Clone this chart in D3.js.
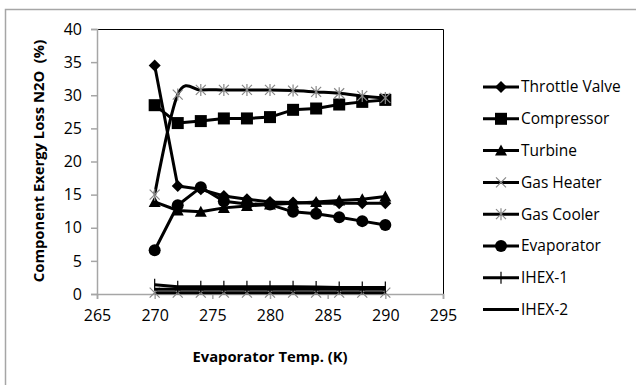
<!DOCTYPE html>
<html lang="en">
<head>
<meta charset="UTF-8">
<title>Component Exergy Loss N2O</title>
<style>
  body { margin: 0; background: #fff; }
  text { font-family: "Open Sans", sans-serif; fill: #000; }
</style>
</head>
<body>
<svg id="chart" width="636" height="385"></svg>
<script src="https://d3js.org/d3.v7.min.js"></script>
<script>
// data
var temps = [270, 272, 274, 276, 278, 280, 282, 284, 286, 288, 290];
var throttleValve = [34.5, 16.3, 15.8, 14.8, 14.3, 13.9, 13.8, 13.7, 13.7, 13.7, 13.7];
var compressor    = [28.5, 25.8, 26.1, 26.5, 26.5, 26.7, 27.8, 28.0, 28.6, 29.0, 29.3];
var turbine       = [13.9, 12.6, 12.4, 13.0, 13.3, 13.5, 13.7, 13.9, 14.1, 14.3, 14.7];
var gasHeater     = [0.2, 0.2, 0.2, 0.2, 0.2, 0.2, 0.2, 0.2, 0.2, 0.2, 0.2];
var gasCooler     = [15.0, 30.1, 30.8, 30.8, 30.8, 30.8, 30.7, 30.5, 30.3, 29.9, 29.6];
var evaporator    = [6.6, 13.4, 16.1, 14.0, 13.6, 13.5, 12.4, 12.1, 11.6, 11.0, 10.4];
var ihex1         = [1.4, 1.1, 1.1, 1.1, 1.1, 1.1, 1.1, 1.05, 1.0, 1.0, 1.0];
var ihex2         = [0.7, 0.7, 0.7, 0.7, 0.7, 0.7, 0.7, 0.7, 0.7, 0.7, 0.7];
var xTicks = [265, 270, 275, 280, 285, 290, 295];
var yTicks = [0, 5, 10, 15, 20, 25, 30, 35, 40];

var series = [
  {name: "Throttle Valve", values: throttleValve, marker: "diamond"},
  {name: "Compressor", values: compressor, marker: "square"},
  {name: "Turbine", values: turbine, marker: "triangle"},
  {name: "Gas Heater", values: gasHeater, marker: "x"},
  {name: "Gas Cooler", values: gasCooler, marker: "asterisk", smooth: true},
  {name: "Evaporator", values: evaporator, marker: "circle"},
  {name: "IHEX-1", values: ihex1, marker: "plus"},
  {name: "IHEX-2", values: ihex2, marker: "none"}
];

var svg = d3.select("#chart");

// outer chart frame
svg.append("rect")
  .attr("x", 5.5).attr("y", 9.5)
  .attr("width", 640).attr("height", 400)
  .attr("fill", "none").attr("stroke", "#a6a6a6").attr("stroke-width", 1.5);

var plot = {left: 97, right: 443, top: 29, bottom: 294};

var x = d3.scaleLinear().domain([265, 295]).range([plot.left, plot.right]);
var y = d3.scaleLinear().domain([0, 40]).range([plot.bottom, plot.top]);

// plot area border (top and right)
svg.append("path")
  .attr("d", "M" + plot.left + "," + (plot.top + 0.5) + "H" + (plot.right + 0.5) + "V" + plot.bottom)
  .attr("fill", "none").attr("stroke", "#000").attr("stroke-width", 1);

// axes
var xAxis = svg.append("g")
  .attr("transform", "translate(0," + plot.bottom + ")")
  .call(d3.axisBottom(x).tickValues(xTicks).tickSize(5).tickPadding(11));
var yAxis = svg.append("g")
  .attr("transform", "translate(" + plot.left + ",0)")
  .call(d3.axisLeft(y).tickValues(yTicks).tickSize(6).tickPadding(9));

[xAxis, yAxis].forEach(function(ax) {
  ax.select(".domain").attr("stroke", "#a6a6a6").attr("stroke-width", 1.5);
  ax.selectAll(".tick line").attr("stroke", "#a6a6a6").attr("stroke-width", 1.5);
  ax.selectAll(".tick text").style("font-family", "'Open Sans', sans-serif")
    .style("font-size", "16px").attr("fill", "#333");
});

// axis titles
svg.append("text")
  .attr("x", 270).attr("y", 362)
  .attr("text-anchor", "middle")
  .style("font-size", "14.8px").style("font-weight", "bold")
  .text("Evaporator Temp. (K)");

svg.append("text")
  .attr("transform", "translate(44,161) rotate(-90)")
  .attr("text-anchor", "middle")
  .style("font-size", "14.8px").style("font-weight", "bold")
  .text("Component Exergy Loss N2O\u00a0 (%)");

function drawMarker(g, type, cx, cy) {
  if (type === "diamond") {
    g.append("path").attr("d", "M" + cx + "," + (cy - 6) + "L" + (cx + 6) + "," + cy + "L" + cx + "," + (cy + 6) + "L" + (cx - 6) + "," + cy + "Z")
      .attr("fill", "#000");
  } else if (type === "square") {
    g.append("rect").attr("x", cx - 6).attr("y", cy - 6).attr("width", 12).attr("height", 12).attr("fill", "#000");
  } else if (type === "triangle") {
    g.append("path").attr("d", "M" + cx + "," + (cy - 6) + "L" + (cx + 6) + "," + (cy + 5) + "L" + (cx - 6) + "," + (cy + 5) + "Z").attr("fill", "#000");
  } else if (type === "circle") {
    g.append("circle").attr("cx", cx).attr("cy", cy).attr("r", 6).attr("fill", "#000");
  } else if (type === "x" || type === "asterisk") {
    var s = 5;
    var d = "M" + (cx - s) + "," + (cy - s) + "L" + (cx + s) + "," + (cy + s) +
            "M" + (cx - s) + "," + (cy + s) + "L" + (cx + s) + "," + (cy - s);
    if (type === "asterisk") d += "M" + cx + "," + (cy - 6) + "L" + cx + "," + (cy + 6);
    g.append("path").attr("d", d).attr("stroke", "#888").attr("stroke-width", 1.2).attr("fill", "none");
  } else if (type === "plus") {
    g.append("path").attr("d", "M" + cx + "," + (cy - 6) + "L" + cx + "," + (cy + 6))
      .attr("stroke", "#000").attr("stroke-width", 1.2);
  }
}

// series lines and markers
series.forEach(function(s) {
  var g = svg.append("g");
  var line = d3.line()
    .x(function(d, i) { return x(temps[i]); })
    .y(function(d) { return y(d); })
    .curve(s.smooth ? d3.curveCatmullRom.alpha(0) : d3.curveLinear);
  g.append("path").datum(s.values)
    .attr("d", line)
    .attr("fill", "none").attr("stroke", "#000").attr("stroke-width", 3)
    .attr("stroke-linejoin", "round");
  s.values.forEach(function(v, i) {
    drawMarker(g, s.marker, x(temps[i]), y(v));
  });
});

// legend
var legend = svg.append("g");
series.forEach(function(s, i) {
  var ly = 87 + i * 31.8;
  legend.append("line")
    .attr("x1", 483).attr("x2", 519).attr("y1", ly).attr("y2", ly)
    .attr("stroke", "#000").attr("stroke-width", 3);
  drawMarker(legend, s.marker, 501, ly);
  legend.append("text")
    .attr("x", 521).attr("y", ly)
    .attr("dy", "0.35em")
    .style("font-size", "15.5px")
    .text(s.name);
});
</script>
</body>
</html>
